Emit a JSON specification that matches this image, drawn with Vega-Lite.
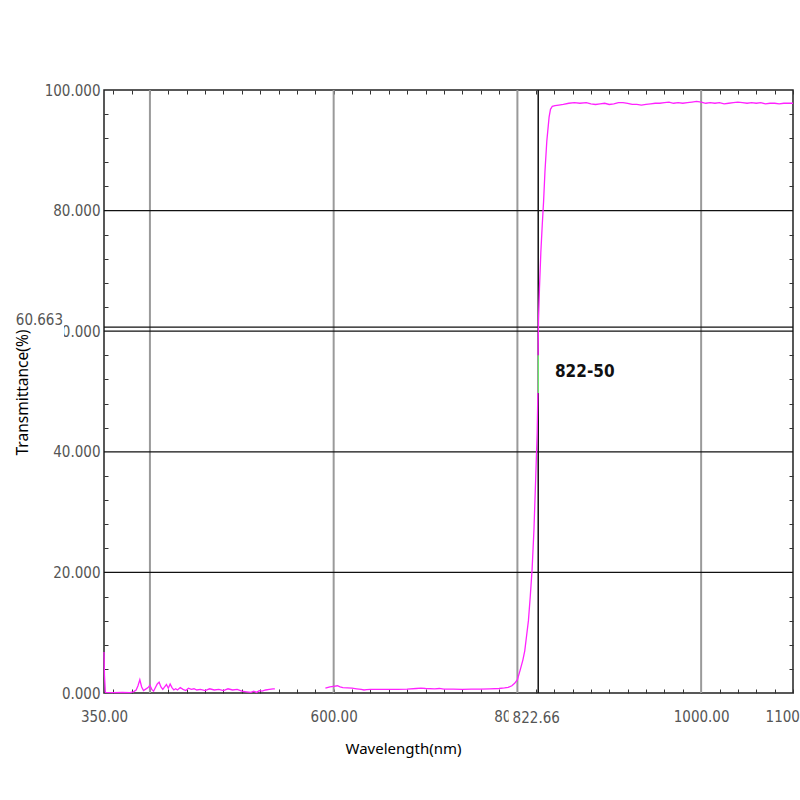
{
  "$schema": "https://vega.github.io/schema/vega-lite/v6.json",
  "width": 689,
  "height": 603,
  "autosize": "none",
  "padding": {"left": 104, "top": 90, "right": 7, "bottom": 107},
  "background": "white",
  "config": {
    "view": {"stroke": "#222", "strokeWidth": 1.5},
    "axis": {"labelFont": "DejaVu Sans Condensed", "labelFontSize": 15, "labelColor": "#555", "titleFont": "Noto Sans", "titleFontSize": 15, "titleFontWeight": "normal", "titleColor": "#000", "tickColor": "#333", "grid": false}
  },
  "datasets": {
    "spectrum": [
      {"seg": "a", "nm": 350, "T": 6.8}, {"seg": "a", "nm": 350.5, "T": 3.0}, {"seg": "a", "nm": 351.5, "T": 0.1},
      {"seg": "a", "nm": 360, "T": 0.05}, {"seg": "a", "nm": 370, "T": 0.1}, {"seg": "a", "nm": 378, "T": 0.05},
      {"seg": "a", "nm": 382, "T": 0.2}, {"seg": "a", "nm": 385, "T": 0.5}, {"seg": "a", "nm": 387, "T": 1.2},
      {"seg": "a", "nm": 389, "T": 2.2}, {"seg": "a", "nm": 391, "T": 1.0}, {"seg": "a", "nm": 393, "T": 0.4},
      {"seg": "a", "nm": 395, "T": 0.6}, {"seg": "a", "nm": 398, "T": 0.9}, {"seg": "a", "nm": 400, "T": 1.3},
      {"seg": "a", "nm": 402, "T": 0.6}, {"seg": "a", "nm": 404, "T": 0.3}, {"seg": "a", "nm": 406, "T": 0.9},
      {"seg": "a", "nm": 408, "T": 1.5}, {"seg": "a", "nm": 410, "T": 1.8}, {"seg": "a", "nm": 412, "T": 1.0},
      {"seg": "a", "nm": 414, "T": 0.6}, {"seg": "a", "nm": 416, "T": 1.0}, {"seg": "a", "nm": 418, "T": 1.4},
      {"seg": "a", "nm": 420, "T": 0.8}, {"seg": "a", "nm": 422, "T": 1.5}, {"seg": "a", "nm": 424, "T": 0.9},
      {"seg": "a", "nm": 426, "T": 0.5}, {"seg": "a", "nm": 428, "T": 0.7}, {"seg": "a", "nm": 430, "T": 0.5},
      {"seg": "a", "nm": 433, "T": 0.9}, {"seg": "a", "nm": 436, "T": 0.6}, {"seg": "a", "nm": 439, "T": 0.4},
      {"seg": "a", "nm": 442, "T": 0.8}, {"seg": "a", "nm": 445, "T": 0.6}, {"seg": "a", "nm": 448, "T": 0.7},
      {"seg": "a", "nm": 451, "T": 0.5}, {"seg": "a", "nm": 455, "T": 0.6}, {"seg": "a", "nm": 460, "T": 0.4},
      {"seg": "a", "nm": 465, "T": 0.7}, {"seg": "a", "nm": 470, "T": 0.5}, {"seg": "a", "nm": 475, "T": 0.6},
      {"seg": "a", "nm": 480, "T": 0.4}, {"seg": "a", "nm": 485, "T": 0.7}, {"seg": "a", "nm": 490, "T": 0.5},
      {"seg": "a", "nm": 495, "T": 0.6}, {"seg": "a", "nm": 500, "T": 0.3}, {"seg": "a", "nm": 505, "T": 0.2},
      {"seg": "a", "nm": 510, "T": 0.1}, {"seg": "a", "nm": 513, "T": 0.3}, {"seg": "a", "nm": 516, "T": 0.1},
      {"seg": "a", "nm": 519, "T": 0.4}, {"seg": "a", "nm": 522, "T": 0.3}, {"seg": "a", "nm": 526, "T": 0.5},
      {"seg": "a", "nm": 530, "T": 0.6}, {"seg": "a", "nm": 534, "T": 0.7}, {"seg": "a", "nm": 536, "T": 0.7},
      {"seg": "b", "nm": 591, "T": 0.8}, {"seg": "b", "nm": 593, "T": 0.9}, {"seg": "b", "nm": 596, "T": 1.0},
      {"seg": "b", "nm": 600, "T": 1.1}, {"seg": "b", "nm": 604, "T": 1.2}, {"seg": "b", "nm": 607, "T": 1.0},
      {"seg": "b", "nm": 610, "T": 0.9}, {"seg": "b", "nm": 615, "T": 0.85}, {"seg": "b", "nm": 620, "T": 0.8},
      {"seg": "b", "nm": 625, "T": 0.7}, {"seg": "b", "nm": 630, "T": 0.6}, {"seg": "b", "nm": 633, "T": 0.5},
      {"seg": "b", "nm": 636, "T": 0.55}, {"seg": "b", "nm": 640, "T": 0.6}, {"seg": "b", "nm": 650, "T": 0.6},
      {"seg": "b", "nm": 660, "T": 0.6}, {"seg": "b", "nm": 670, "T": 0.6}, {"seg": "b", "nm": 680, "T": 0.65},
      {"seg": "b", "nm": 690, "T": 0.75}, {"seg": "b", "nm": 695, "T": 0.8}, {"seg": "b", "nm": 700, "T": 0.75},
      {"seg": "b", "nm": 710, "T": 0.7}, {"seg": "b", "nm": 715, "T": 0.75}, {"seg": "b", "nm": 720, "T": 0.65},
      {"seg": "b", "nm": 730, "T": 0.65}, {"seg": "b", "nm": 740, "T": 0.6}, {"seg": "b", "nm": 750, "T": 0.65},
      {"seg": "b", "nm": 760, "T": 0.65}, {"seg": "b", "nm": 770, "T": 0.7}, {"seg": "b", "nm": 780, "T": 0.75},
      {"seg": "b", "nm": 786, "T": 0.85}, {"seg": "b", "nm": 790, "T": 0.95}, {"seg": "b", "nm": 794, "T": 1.2},
      {"seg": "b", "nm": 797, "T": 1.6}, {"seg": "b", "nm": 800, "T": 2.2}, {"seg": "b", "nm": 803, "T": 3.8},
      {"seg": "b", "nm": 806, "T": 5.5}, {"seg": "b", "nm": 808, "T": 7.0}, {"seg": "b", "nm": 810, "T": 9.5},
      {"seg": "b", "nm": 812, "T": 12.0}, {"seg": "b", "nm": 814, "T": 16.0}, {"seg": "b", "nm": 816, "T": 20.5},
      {"seg": "b", "nm": 818, "T": 27.0}, {"seg": "b", "nm": 820, "T": 36.0}, {"seg": "b", "nm": 821.5, "T": 43.0},
      {"seg": "b", "nm": 822.3, "T": 50.0}, {"seg": "b", "nm": 822.66, "T": 58.0}, {"seg": "b", "nm": 823, "T": 62.0},
      {"seg": "b", "nm": 824, "T": 67.0}, {"seg": "b", "nm": 825.5, "T": 73.0}, {"seg": "b", "nm": 827, "T": 77.5},
      {"seg": "b", "nm": 828.5, "T": 81.5}, {"seg": "b", "nm": 830, "T": 86.5}, {"seg": "b", "nm": 832, "T": 91.5},
      {"seg": "b", "nm": 834.5, "T": 95.5}, {"seg": "b", "nm": 836, "T": 96.8}, {"seg": "b", "nm": 838, "T": 97.3},
      {"seg": "b", "nm": 841, "T": 97.4}, {"seg": "b", "nm": 845, "T": 97.5}, {"seg": "b", "nm": 850, "T": 97.6},
      {"seg": "b", "nm": 856, "T": 97.8}, {"seg": "b", "nm": 862, "T": 97.9}, {"seg": "b", "nm": 868, "T": 97.8},
      {"seg": "b", "nm": 875, "T": 97.9}, {"seg": "b", "nm": 880, "T": 97.7}, {"seg": "b", "nm": 885, "T": 97.6},
      {"seg": "b", "nm": 890, "T": 97.7}, {"seg": "b", "nm": 895, "T": 97.8}, {"seg": "b", "nm": 900, "T": 97.6},
      {"seg": "b", "nm": 905, "T": 97.7}, {"seg": "b", "nm": 910, "T": 97.9}, {"seg": "b", "nm": 915, "T": 97.9},
      {"seg": "b", "nm": 920, "T": 97.8}, {"seg": "b", "nm": 925, "T": 97.6}, {"seg": "b", "nm": 930, "T": 97.6},
      {"seg": "b", "nm": 935, "T": 97.5}, {"seg": "b", "nm": 940, "T": 97.6}, {"seg": "b", "nm": 945, "T": 97.7},
      {"seg": "b", "nm": 950, "T": 97.8}, {"seg": "b", "nm": 955, "T": 97.8}, {"seg": "b", "nm": 960, "T": 97.9},
      {"seg": "b", "nm": 965, "T": 98.0}, {"seg": "b", "nm": 970, "T": 97.8}, {"seg": "b", "nm": 975, "T": 97.9},
      {"seg": "b", "nm": 980, "T": 97.8}, {"seg": "b", "nm": 985, "T": 97.9}, {"seg": "b", "nm": 990, "T": 98.0},
      {"seg": "b", "nm": 995, "T": 98.1}, {"seg": "b", "nm": 1000, "T": 98.0}, {"seg": "b", "nm": 1005, "T": 97.8},
      {"seg": "b", "nm": 1010, "T": 97.9}, {"seg": "b", "nm": 1015, "T": 97.8}, {"seg": "b", "nm": 1020, "T": 97.9},
      {"seg": "b", "nm": 1025, "T": 97.7}, {"seg": "b", "nm": 1030, "T": 97.8}, {"seg": "b", "nm": 1035, "T": 97.9},
      {"seg": "b", "nm": 1040, "T": 98.0}, {"seg": "b", "nm": 1045, "T": 97.9}, {"seg": "b", "nm": 1050, "T": 97.8},
      {"seg": "b", "nm": 1055, "T": 97.9}, {"seg": "b", "nm": 1060, "T": 97.8}, {"seg": "b", "nm": 1065, "T": 97.9},
      {"seg": "b", "nm": 1070, "T": 97.7}, {"seg": "b", "nm": 1075, "T": 97.8}, {"seg": "b", "nm": 1080, "T": 97.8},
      {"seg": "b", "nm": 1085, "T": 97.7}, {"seg": "b", "nm": 1090, "T": 97.8}, {"seg": "b", "nm": 1095, "T": 97.8},
      {"seg": "b", "nm": 1100, "T": 97.8}
    ],
    "vgrid": [{"nm": 400}, {"nm": 600}, {"nm": 800}, {"nm": 1000}],
    "hgrid": [{"T": 20}, {"T": 40}, {"T": 60}, {"T": 60.663}, {"T": 80}],
    "cursor": [{"nm": 822.66, "T": 60.663, "name": "822-50"}]
  },
  "resolve": {"axis": {"x": "independent", "y": "independent"}},
  "layer": [
    {
      "data": {"name": "vgrid"},
      "mark": {"type": "rule", "color": "#9a9a9a", "strokeWidth": 2},
      "encoding": {
        "x": {"field": "nm", "type": "quantitative", "scale": {"domain": [350, 1100], "nice": false, "zero": false},
          "axis": {"orient": "bottom", "values": [350, 600, 800, 1000, 1100], "format": ".2f", "ticks": false, "domain": false,
            "labelFlush": false, "labelOverlap": false, "labelBound": false, "labelPadding": 16,
            "title": "Wavelength(nm)", "titleX": 299, "titleY": 55, "titleAlign": "center", "titleBaseline": "middle", "titleAnchor": null}}
      }
    },
    {
      "data": {"name": "hgrid"},
      "mark": {"type": "rule", "color": "#111", "strokeWidth": 1.2},
      "encoding": {
        "y": {"field": "T", "type": "quantitative", "scale": {"domain": [0, 100], "nice": false, "zero": true},
          "axis": {"orient": "left", "values": [0, 20, 40, 60, 80, 100], "format": ".3f", "ticks": false, "domain": false,
            "labelFlush": false, "labelOverlap": false, "labelBound": false, "labelPadding": 4,
            "title": "Transmittance(%)", "titleFontSize": 15.5, "titleX": -82, "titleY": 302, "titleAlign": "center", "titleBaseline": "middle", "titleAngle": -90}}
      }
    },
    {
      "data": {"name": "cursor"},
      "mark": {"type": "rule", "color": "#111", "strokeWidth": 1.5},
      "encoding": {
        "x": {"field": "nm", "type": "quantitative",
          "axis": {"orient": "bottom", "offset": -4, "tickSize": 4, "labels": false, "domain": false, "title": null,
            "values": [360,380,400,420,440,460,480,500,520,540,560,580,600,620,640,660,680,700,720,740,760,780,800,820,840,860,880,900,920,940,960,980,1000,1020,1040,1060,1080,1100]}}
      }
    },
    {
      "data": {"name": "spectrum"},
      "mark": {"type": "line", "color": "#ff22ff", "strokeWidth": 1.3},
      "encoding": {
        "x": {"field": "nm", "type": "quantitative",
          "axis": {"orient": "top", "offset": -4, "tickSize": 4, "labels": false, "domain": false, "title": null,
            "values": [360,380,400,420,440,460,480,500,520,540,560,580,600,620,640,660,680,700,720,740,760,780,800,820,840,860,880,900,920,940,960,980,1000,1020,1040,1060,1080,1100]}},
        "y": {"field": "T", "type": "quantitative",
          "axis": {"orient": "right", "offset": -4, "tickSize": 4, "labels": false, "domain": false, "title": null,
            "values": [4,8,12,16,24,28,32,36,44,48,52,56,64,68,72,76,84,88,92,96]}},
        "detail": {"field": "seg"}
      }
    },
    {
      "data": {"name": "cursor"},
      "mark": {"type": "rule", "color": "#66ee66", "strokeWidth": 1.5},
      "encoding": {
        "x": {"field": "nm", "type": "quantitative", "axis": null},
        "y": {"datum": 49.75, "type": "quantitative",
          "axis": {"orient": "left", "offset": -4, "tickSize": 4, "labels": false, "domain": false, "title": null,
            "values": [4,8,12,16,24,28,32,36,44,48,52,56,64,68,72,76,84,88,92,96]}},
        "y2": {"datum": 56}
      }
    },
    {
      "data": {"name": "cursor"},
      "mark": {"type": "text", "font": "DejaVu Sans Condensed", "fontWeight": "bold", "fontSize": 17, "align": "left", "baseline": "middle", "color": "#111"},
      "encoding": {
        "x": {"datum": 840.9, "type": "quantitative", "axis": null},
        "y": {"datum": 53.2, "type": "quantitative", "axis": null},
        "text": {"field": "name"}
      }
    },
    {
      "data": {"name": "cursor"},
      "mark": {"type": "rect", "color": "white"},
      "encoding": {
        "x": {"datum": 790.5, "type": "quantitative", "axis": null},
        "x2": {"datum": 850},
        "y": {"datum": -2.4, "type": "quantitative", "axis": null},
        "y2": {"datum": -6.3}
      }
    },
    {
      "data": {"name": "cursor"},
      "mark": {"type": "text", "font": "DejaVu Sans Condensed", "fontSize": 15, "align": "center", "baseline": "middle", "color": "#555"},
      "encoding": {
        "x": {"datum": 820.5, "type": "quantitative", "axis": null},
        "y": {"datum": -4.2, "type": "quantitative", "axis": null},
        "text": {"field": "nm", "format": ".2f"}
      }
    },
    {
      "data": {"name": "cursor"},
      "mark": {"type": "rect", "color": "white"},
      "encoding": {
        "x": {"datum": 290, "type": "quantitative", "axis": null},
        "x2": {"datum": 306.5},
        "y": {"datum": 58.9, "type": "quantitative", "axis": null},
        "y2": {"datum": 62.3}
      }
    },
    {
      "data": {"name": "cursor"},
      "mark": {"type": "text", "font": "DejaVu Sans Condensed", "fontSize": 15, "align": "right", "baseline": "middle", "color": "#555"},
      "encoding": {
        "x": {"datum": 305.4, "type": "quantitative", "axis": null},
        "y": {"datum": 61.9, "type": "quantitative", "axis": null},
        "text": {"field": "T", "format": ".3f"}
      }
    }
  ]
}
